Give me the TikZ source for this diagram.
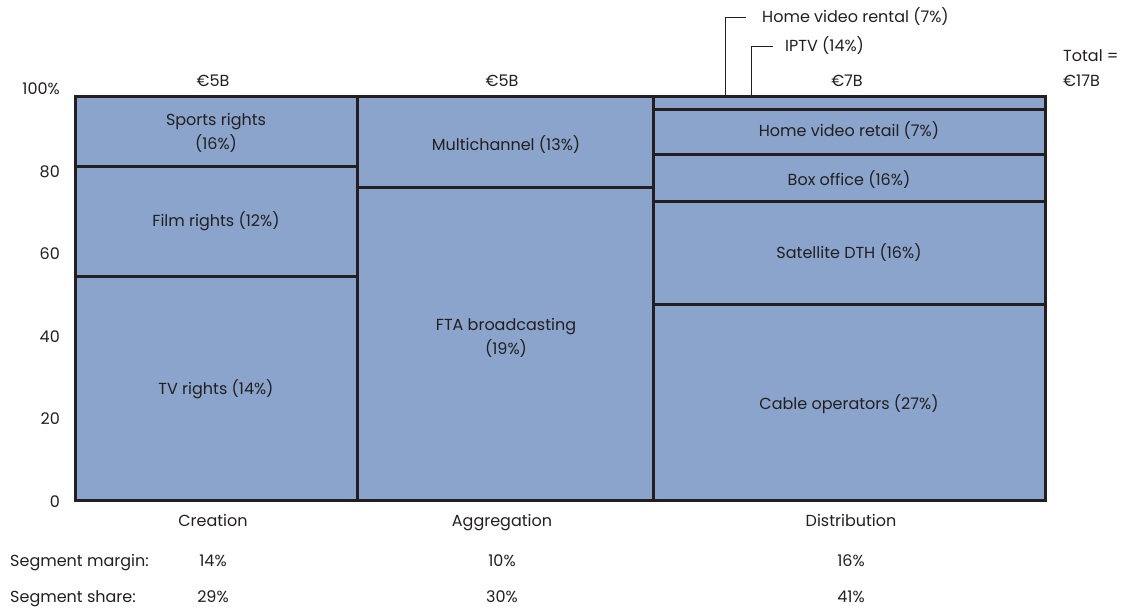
\documentclass[tikz,border=0pt]{standalone}
\usepackage{fontspec}
\setmainfont{Poppins}
\definecolor{cellblue}{HTML}{8AA4CB}
\definecolor{ink}{HTML}{231F20}
\begin{document}
\begin{tikzpicture}[x=1pt,y=-1pt,
  every node/.style={font=\fontsize{16}{24}\selectfont, text=ink, inner sep=0pt},
  txt/.style={text height=12pt, text depth=3pt},
  cell/.style={fill=cellblue, draw=ink, line width=3pt},
  lbl/.style={align=center},
  ytick/.style={txt, anchor=east},
  leader/.style={draw=ink, line width=1pt}]
\useasboundingbox (0,0) rectangle (1126,610);

% creation column
\draw[cell] (75,96) rectangle (357,166);
\draw[cell] (75,166) rectangle (357,276);
\draw[cell] (75,276) rectangle (357,500);
% aggregation column
\draw[cell] (357,96) rectangle (653,187);
\draw[cell] (357,187) rectangle (653,500);
% distribution column
\draw[cell] (653,96) rectangle (1045,109.5);
\draw[cell] (653,109.5) rectangle (1045,154.5);
\draw[cell] (653,154.5) rectangle (1045,201.7);
\draw[cell] (653,201.7) rectangle (1045,304);
\draw[cell] (653,304) rectangle (1045,500);

% cell labels
\node[lbl] (sports) at (216,133) {Sports rights\\(16\%)};
\node[txt] (film) at (216,222) {Film rights (12\%)};
\node[txt] (tv) at (216,390) {TV rights (14\%)};
\node[txt] (multi) at (506,146) {Multichannel (13\%)};
\node[lbl] (fta) at (506,338) {FTA broadcasting\\(19\%)};
\node[txt] (retail) at (849,132) {Home video retail (7\%)};
\node[txt] (box) at (849,181) {Box office (16\%)};
\node[txt] (sat) at (849,254) {Satellite DTH (16\%)};
\node[txt] (cable) at (849,405) {Cable operators (27\%)};

% leaders for the thin top slices
\coordinate (rentalfoot) at (725,96);
\coordinate (iptvfoot) at (751,96);
\node[txt, anchor=west, inner xsep=16pt] (rental) at (746,18) {Home video rental (7\%)};
\node[txt, anchor=west, inner xsep=12pt] (iptv) at (773,47) {IPTV (14\%)};
\draw[leader] (rentalfoot) |- (rental.west);
\draw[leader] (iptvfoot) |- (iptv.west);

% column totals
\node[txt] (tc) at (213,82) {€5B};
\node[txt] (ta) at (502,82) {€5B};
\node[txt] (td) at (847,82) {€7B};
\node[txt, anchor=west] (tot1) at (1063,57) {Total =};
\node[txt, anchor=west] (tot2) at (1063,82) {€17B};

% y axis
\node[ytick] (y100) at (60,90) {100\%};
\node[ytick] (y80) at (60,173) {80};
\node[ytick] (y60) at (60,255) {60};
\node[ytick] (y40) at (60,338) {40};
\node[ytick] (y20) at (60,420) {20};
\node[ytick] (y0) at (60,503) {0};

% segment names
\node[txt] (cc) at (213,522) {Creation};
\node[txt] (ca) at (502,522) {Aggregation};
\node[txt] (cd) at (851,522) {Distribution};

% segment figures
\node[txt, anchor=west] (mh) at (10,562) {Segment margin:};
\node[txt, anchor=west] (sh) at (10,598) {Segment share:};
\node[txt] (m1) at (213,562) {14\%};
\node[txt] (m2) at (502,562) {10\%};
\node[txt] (m3) at (851,562) {16\%};
\node[txt] (s1) at (213,598) {29\%};
\node[txt] (s2) at (502,598) {30\%};
\node[txt] (s3) at (851,598) {41\%};
\end{tikzpicture}
\end{document}
